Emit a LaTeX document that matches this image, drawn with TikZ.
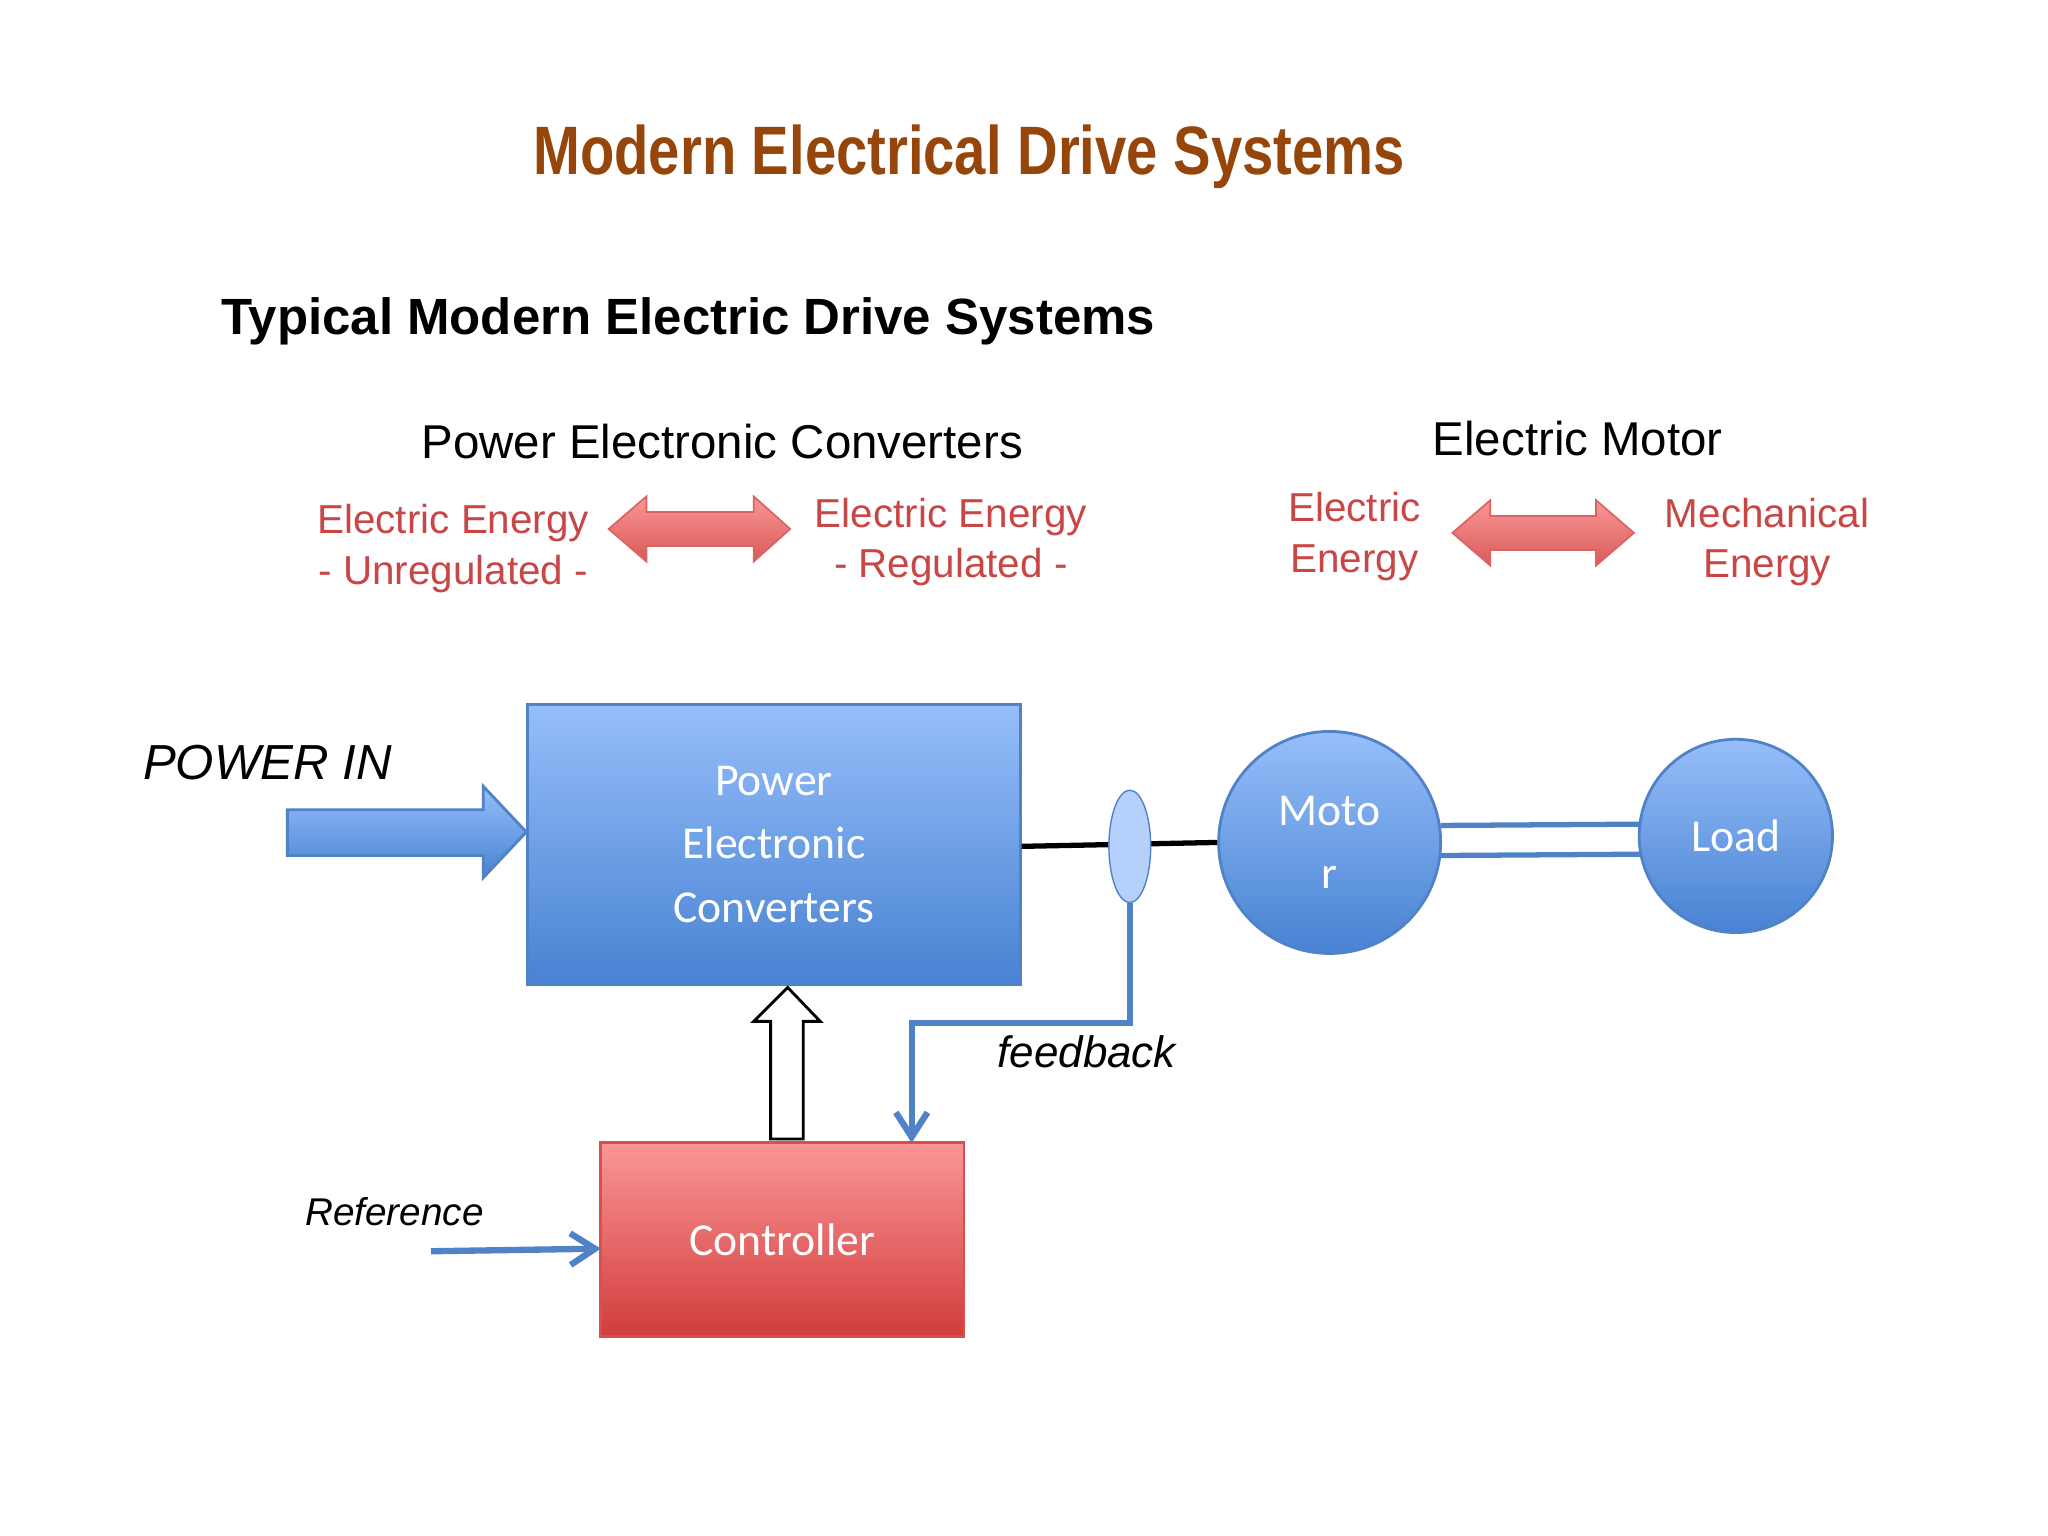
\documentclass[tikz,border=0pt]{standalone}
\usepackage{fontspec}
\setmainfont{Liberation Sans}
\newfontfamily\calfnt{Carlito}
\usetikzlibrary{arrows.meta,shapes.geometric}
\definecolor{brn}{RGB}{150,70,10}
\definecolor{rtx}{RGB}{200,70,70}
\definecolor{bl}{RGB}{80,130,200}
\definecolor{bltop}{RGB}{150,190,250}
\definecolor{blbot}{RGB}{72,130,210}
\definecolor{rdtop}{RGB}{250,150,150}
\definecolor{rdbot}{RGB}{210,60,60}
\tikzset{
 blk/.style={draw=bl, line width=0.8pt, top color=bltop, bottom color=blbot},
 rtxt/.style={text=rtx, font=\fontsize{11.5}{14.5}\selectfont, align=center},
 hdr/.style={font=\fontsize{13.5}{16}\selectfont},
 wtxt/.style={text=white, font=\calfnt\fontsize{13}{18}\selectfont, align=center},
 dbl/.style={draw=rdbot!80, line width=0.5pt, top color=rdtop, bottom color=rdbot!85},
}
\begin{document}
\begin{tikzpicture}[x=0.01306cm,y=-0.01306cm]
\useasboundingbox (0,0) rectangle (1568,1176);
\node (title) at (742,120) {\fontsize{19.5}{22}\selectfont\bfseries\color{brn}\addfontfeature{FakeStretch=0.82}Modern Electrical Drive Systems};
\node[anchor=west] (sub) at (160,246) {\fontsize{14.5}{17}\selectfont\bfseries Typical Modern Electric Drive Systems};
\node[hdr] (h1) at (553,338) {Power Electronic Converters};
\node[hdr] (h2) at (1208,336) {Electric Motor};
\node[rtxt] (t1) at (347,420) {Electric Energy\\- Unregulated -};
\node[rtxt] (t2) at (728,415) {Electric Energy\\- Regulated -};
\node[rtxt] (t3) at (1037,411) {Electric\\Energy};
\node[rtxt] (t4) at (1353,415) {Mechanical\\Energy};
\path[dbl] (466,405) -- (495,380) -- (495,392) -- (577,392) -- (577,380) -- (605,405) -- (577,430) -- (577,418) -- (495,418) -- (495,430) -- cycle;
\path[dbl] (1112,408) -- (1141,383) -- (1141,395) -- (1222,395) -- (1222,383) -- (1251,408) -- (1222,433) -- (1222,421) -- (1141,421) -- (1141,433) -- cycle;
% PEC box
\node[blk, minimum width=377*0.01306cm, minimum height=215*0.01306cm, wtxt, anchor=north west, inner sep=0] (pec) at (403,538) {Power\\Electronic\\Converters};
\node[font=\itshape\fontsize{14}{16}\selectfont, anchor=west] (pin) at (100,584) {POWER IN};
\path[blk] (220,620) -- (370,620) -- (370,602) -- (403,637) -- (370,672) -- (370,655) -- (220,655) -- cycle;
% motor, load
\node[circle, blk, minimum size=170*0.01306cm, wtxt, inner sep=0] (mot) at (1018,645) {Moto\\r};
\node[circle, blk, minimum size=148*0.01306cm, wtxt, inner sep=0] (load) at (1329,640) {Load};
\draw[black, line width=1.5pt] (pec.east |- 0,648) -- (mot.west);
\node[ellipse, draw=bl, fill=bltop!70, minimum width=32*0.01306cm, minimum height=86*0.01306cm, inner sep=0] (ct) at (865,648) {};
\draw[bl, line width=1.5pt] (1103,632) -- (1256,631);
\draw[bl, line width=1.5pt] (1103,655) -- (1256,654);
% controller
\path[draw=rdbot!90, line width=0.8pt, top color=rdtop, bottom color=rdbot] (460,875) rectangle (738,1023);
\node[wtxt] (ctl) at (599,949) {Controller};
\coordinate (cin) at (698,875);
\draw[bl, line width=1.8pt, -{Straight Barb[length=7pt,width=9pt]}] (ct.south) |- (698,783) -- (cin);
\node[font=\itshape\fontsize{12.5}{15}\selectfont] (fb) at (832,805) {feedback};
\draw[black, fill=white, line width=0.8pt] (590,872) -- (590,782) -- (577,782) -- (603,756) -- (628,782) -- (615,782) -- (615,872) -- cycle;
\coordinate (rs) at (330,958);
\coordinate (re) at (460,956);
\draw[bl, line width=1.8pt, -{Straight Barb[length=7pt,width=9pt]}] (rs) -- (re);
\node[font=\itshape\fontsize{11}{13}\selectfont] (ref) at (302,928) {Reference};
\end{tikzpicture}
\end{document}
